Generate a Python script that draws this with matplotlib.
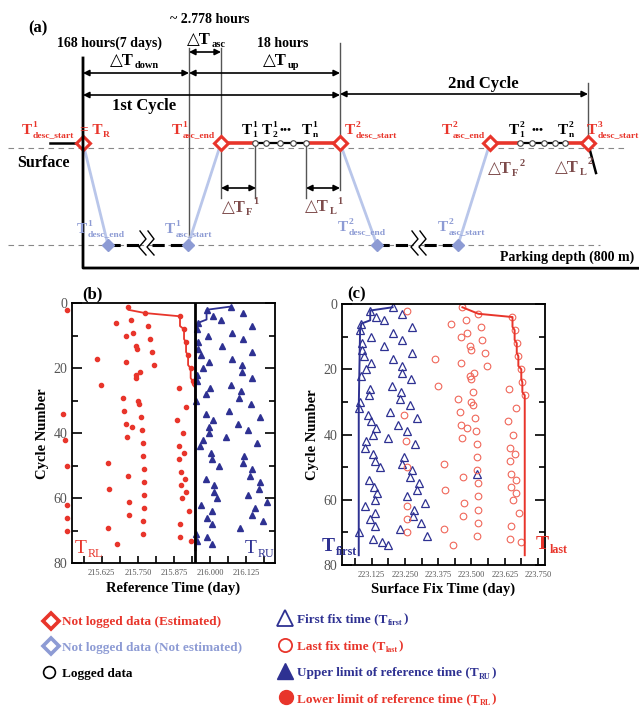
import matplotlib
matplotlib.use('Agg')
import matplotlib.pyplot as plt
from matplotlib.ticker import MultipleLocator, FormatStrFormatter

plt.rcParams['font.family'] = ['Liberation Serif', 'DejaVu Serif', 'DejaVu Sans']

RED = '#e8352b'
RED2 = '#f0675a'
BLUE = '#2e3192'
LBLUE = '#8d9bd4'
LLINE = '#b9c6ea'
BROWN = '#7d4b4b'
GRAY = '#555555'

# ---------- (b) reference time ----------
rl_c = [1, 2, 3, 4, 5, 6, 7, 8, 9, 10, 11, 12, 13, 14, 15, 16, 17, 18, 19, 20, 21, 22, 23, 24, 25, 26,
        29, 30, 31, 32, 33, 34, 35, 36, 37, 38, 39, 40, 41, 42, 43, 44, 46, 47, 48, 49, 50, 51, 52, 53,
        54, 55, 56, 57, 58, 59, 60, 61, 62, 63, 64, 65, 66, 67, 68, 69, 70, 71, 72, 73, 74]
rl_x = [215.717, 215.504, 215.775, 215.896, 215.726, 215.673, 215.784, 215.910, 215.735, 215.708,
        215.792, 215.917, 215.743, 215.746, 215.800, 215.924, 215.610, 215.708, 215.806, 215.933,
        215.758, 215.743, 215.744, 215.940, 215.622, 215.893, 215.700, 215.750, 215.754, 215.916,
        215.703, 215.492, 215.761, 215.887, 215.708, 215.729, 215.766, 215.905, 215.711, 215.498,
        215.767, 215.894, 215.911, 215.769, 215.894, 215.646, 215.504, 215.771, 215.898, 215.717,
        215.913, 215.771, 215.898, 215.649, 215.916, 215.771, 215.904, 215.720, 215.504, 215.771,
        215.927, 215.720, 215.504, 215.769, 215.896, 215.648, 215.504, 215.769, 215.896, 215.934,
        215.679]
ru_c = [1, 2, 3, 4, 5, 6, 7, 8, 9, 10, 11, 12, 13, 14, 15, 16, 17, 18, 19, 20, 21, 22, 23, 24, 25,
        26, 27, 28, 29, 30, 31, 33, 34, 35, 36, 37, 38, 39, 40, 41, 42, 43, 44, 46, 47, 48, 49, 50,
        51, 53, 54, 55, 56, 57, 58, 59, 60, 61, 62, 63, 64, 65, 66, 67, 68, 69, 71, 72, 73, 74]
ru_x = [216.072, 215.988, 216.113, 216.011, 216.039, 215.959, 216.147, 215.954, 216.076, 215.994,
        216.113, 215.959, 216.043, 215.959, 216.147, 215.968, 216.076, 215.996, 216.111, 215.977,
        216.111, 215.956, 216.147, 215.954, 216.072, 215.999, 216.107, 215.985, 216.101, 215.951,
        216.142, 216.067, 215.985, 216.173, 216.011, 216.096, 215.996, 216.130, 215.997, 216.055,
        215.974, 216.161, 215.967, 216.002, 216.119, 216.006, 216.113, 216.030, 216.147, 216.138,
        215.986, 216.173, 216.015, 216.170, 216.015, 216.130, 216.023, 216.196, 215.970, 216.157,
        216.008, 216.147, 215.991, 216.184, 216.008, 216.104, 215.951, 215.988, 215.956, 216.006]
rl_step_c = [1, 2, 3, 4, 7, 8, 11, 12, 15, 16, 19, 20, 23, 24, 25, 26, 76]
rl_step_x = [215.717, 215.717, 215.775, 215.896, 215.896, 215.910, 215.910, 215.917, 215.917,
             215.924, 215.924, 215.933, 215.933, 215.940, 215.940, 215.949, 215.949]
ru_step_c = [1, 2, 5, 6, 7, 8, 12, 76]
ru_step_x = [216.072, 215.988, 215.988, 215.959, 215.955, 215.953, 215.950, 215.950]
tr_final = 215.947

# ---------- (c) surface fix time ----------
tf_c = [1, 2, 3, 4, 5, 6, 7, 8, 9, 10, 11, 12, 13, 14, 15, 16, 17, 18, 19, 20, 21, 22, 23, 25, 26,
        27, 28, 29, 30, 31, 32, 33, 34, 35, 36, 37, 38, 39, 40, 41, 42, 43, 44, 46, 47, 48, 49, 50,
        51, 52, 53, 54, 55, 56, 57, 58, 59, 60, 61, 62, 63, 64, 65, 66, 67, 68, 69, 70, 71, 72, 73, 74]
tf_x = [223.204, 223.120, 223.239, 223.141, 223.170, 223.087, 223.276, 223.082, 223.204, 223.122,
        223.241, 223.089, 223.170, 223.091, 223.276, 223.097, 223.204, 223.122, 223.239, 223.104,
        223.239, 223.085, 223.274, 223.201, 223.120, 223.236, 223.116, 223.232, 223.082, 223.269,
        223.079, 223.195, 223.112, 223.295, 223.122, 223.225, 223.141, 223.257, 223.129, 223.185,
        223.104, 223.289, 223.100, 223.132, 223.247, 223.137, 223.241, 223.157, 223.276, 223.522,
        223.269, 223.116, 223.304, 223.135, 223.297, 223.145, 223.257, 223.137, 223.324, 223.100,
        223.285, 223.137, 223.279, 223.120, 223.311, 223.137, 223.232, 223.079, 223.335, 223.132,
        223.166, 223.187]
tl_c = [1, 2, 3, 4, 5, 6, 7, 8, 9, 10, 11, 12, 13, 14, 15, 16, 17, 18, 19, 20, 21, 22, 23, 24, 25,
        26, 27, 28, 29, 30, 31, 32, 33, 34, 35, 36, 37, 38, 39, 40, 41, 42, 43, 44, 46, 47, 48, 49,
        50, 51, 52, 53, 54, 55, 56, 57, 58, 59, 60, 61, 62, 63, 64, 65, 66, 67, 68, 69, 70, 71, 72,
        73, 74]
tl_x = [223.466, 223.257, 223.526, 223.654, 223.479, 223.425, 223.535, 223.662, 223.485, 223.460,
        223.541, 223.670, 223.495, 223.497, 223.551, 223.676, 223.362, 223.460, 223.557, 223.687,
        223.510, 223.495, 223.497, 223.691, 223.376, 223.641, 223.504, 223.700, 223.451, 223.500,
        223.507, 223.666, 223.456, 223.247, 223.514, 223.637, 223.460, 223.482, 223.516, 223.656,
        223.465, 223.254, 223.519, 223.644, 223.662, 223.519, 223.645, 223.397, 223.257, 223.522,
        223.650, 223.470, 223.666, 223.525, 223.650, 223.400, 223.666, 223.525, 223.656, 223.472,
        223.257, 223.525, 223.679, 223.470, 223.257, 223.525, 223.647, 223.397, 223.257, 223.522,
        223.645, 223.685, 223.431]
tf_step_c = [1, 2, 5, 6, 8, 22, 32, 77]
tf_step_x = [223.204, 223.120, 223.120, 223.087, 223.082, 223.079, 223.077, 223.077]
tl_step_c = [1, 3, 4, 7, 8, 11, 12, 15, 16, 19, 20, 23, 24, 27, 28, 77]
tl_step_x = [223.466, 223.526, 223.654, 223.654, 223.662, 223.662, 223.670, 223.670, 223.676,
             223.676, 223.687, 223.687, 223.691, 223.691, 223.700, 223.700]

# ---------- (a) schematic positions (pixels) ----------
surf_y, surf_ref_y, park_y = 143, 148, 245
desc_start = [83, 340, 588]
desc_end = [108, 377]
asc_start = [188, 458]
asc_end = [221, 490]
breaks = [140, 412]
fixes = [[255, 266, 280, 293, 306], [520, 532, 544, 555, 565]]

W, H = 639, 707
fig = plt.figure(figsize=(W / 100, H / 100), dpi=100)
axb = fig.add_axes([71.7 / W, 1 - 563.3 / H, 203.3 / W, 260 / H])
axc = fig.add_axes([341.7 / W, 1 - 565 / H, 203.3 / W, 261 / H])
ov = fig.add_axes([0, 0, 1, 1])
ov.set_xlim(0, W)
ov.set_ylim(H, 0)
ov.axis('off')
ov.set_zorder(5)
renderer = fig.canvas.get_renderer()
PX = 100 / 72


def rich(x, y, parts, size, color, weight='bold'):
    cx = x
    for txt, kind in parts:
        if kind == 'n':
            t = ov.text(cx, y, txt, fontsize=size, color=color, fontweight=weight,
                        ha='left', va='baseline')
            cx += t.get_window_extent(renderer).width
        else:
            sup, sub = txt
            w = 0
            if sup:
                t = ov.text(cx + 0.5, y - 0.45 * size * PX, sup, fontsize=size * 0.62, color=color,
                            fontweight=weight, ha='left', va='baseline')
                w = max(w, t.get_window_extent(renderer).width)
            if sub:
                t = ov.text(cx + 0.5, y + 0.2 * size * PX, sub, fontsize=size * 0.62, color=color,
                            fontweight=weight, ha='left', va='baseline')
                w = max(w, t.get_window_extent(renderer).width)
            cx += w + 1
    return cx


def darrow(x1, x2, y):
    ov.annotate('', xy=(x2, y), xytext=(x1, y),
                arrowprops=dict(arrowstyle='<|-|>', color='k', lw=1.2, shrinkA=0, shrinkB=0,
                                mutation_scale=9))


# ----- panel (a) -----
ov.plot([8, 625], [surf_ref_y] * 2, ls=(0, (5, 4)), color='#888888', lw=0.8)
ov.plot([8, 600], [park_y] * 2, ls=(0, (5, 4)), color='#888888', lw=0.8)

vlines = [(189, 48, 240), (221, 48, 198), (340, 43, 190), (255, 143, 198), (306, 143, 198),
          (588, 83, 143)]
for x, y0, y1 in vlines:
    ov.plot([x, x], [y0, y1], color='#555555', lw=1.0)

darrow(83, 189, 73)
darrow(189, 340, 73)
darrow(189, 221, 52)
darrow(83, 340, 95)
darrow(340, 588, 94)
darrow(221, 256, 188)
darrow(306, 340, 188)

# float track
ov.plot([50, 83], [surf_y] * 2, color='k', lw=1.8)
for i in range(2):
    ov.plot([desc_start[i], desc_end[i]], [surf_y, park_y], color=LLINE, lw=2)
    ov.plot([asc_start[i], asc_end[i]], [park_y, surf_y], color=LLINE, lw=2)
    b = breaks[i]
    ov.plot([desc_end[i], b], [park_y] * 2, color='k', lw=2.2, ls=(0, (4, 2)))
    ov.plot([b + 12, asc_start[i]], [park_y] * 2, color='k', lw=2.2, ls=(0, (4, 2)))
    for dx in (0, 8):
        ov.plot([b + dx, b + dx + 6, b + dx - 1, b + dx + 6],
                [park_y - 14, park_y - 6, park_y + 2, park_y + 10], color='k', lw=1.0)
    f = fixes[i]
    ov.plot([asc_end[i], f[0]], [surf_y] * 2, color=RED, lw=2.6)
    ov.plot([f[0], f[-1]], [surf_y] * 2, color='k', lw=1.6)
    ov.plot([f[-1], desc_start[i + 1]], [surf_y] * 2, color=RED, lw=2.6)
    ov.plot(f, [surf_y] * len(f), 'o', ms=4, mfc='white', mec='#444444', mew=0.8)
    ov.plot([desc_end[i], asc_start[i]], [park_y] * 2, 'D', ms=6, color=LBLUE)
ov.plot([588, 596], [surf_y, 173], color='k', lw=1.8)
ov.plot(desc_start + asc_end, [surf_y] * 5, 'D', ms=7, mfc='white', mec=RED, mew=2.2)

# connecting black line to panel (b)
xr = axb.transData.transform((tr_final, 0))[0]
ov.plot([83, 83, xr, xr], [58, 268, 288, 303.3], color='k', lw=2)

ov.text(28, 32, '(a)', fontsize=12, fontweight='bold')
ov.text(170, 23, '~ 2.778 hours', fontsize=10, fontweight='bold')
ov.text(57, 47, '168 hours(7 days)', fontsize=10, fontweight='bold')
ov.text(257, 47, '18 hours', fontsize=10, fontweight='bold')
rich(187, 44, [('\u25b3T', 'n'), (('', 'asc'), 's')], 12, 'k')
rich(110, 65, [('\u25b3T', 'n'), (('', 'down'), 's')], 12, 'k')
rich(263, 65, [('\u25b3T', 'n'), (('', 'up'), 's')], 12, 'k')
ov.text(112, 110, '1st Cycle', fontsize=12, fontweight='bold')
ov.text(448, 88, '2nd Cycle', fontsize=12, fontweight='bold')

rich(22, 134, [('T', 'n'), (('1', 'desc_start'), 's')], 11, RED)
rich(80, 134, [('= T', 'n'), (('', 'R'), 's')], 11, RED)
rich(172, 134, [('T', 'n'), (('1', 'asc_end'), 's')], 11, RED)
rich(345, 134, [('T', 'n'), (('2', 'desc_start'), 's')], 11, RED)
rich(442, 134, [('T', 'n'), (('2', 'asc_end'), 's')], 11, RED)
rich(587, 134, [('T', 'n'), (('3', 'desc_start'), 's')], 11, RED)
rich(242, 134, [('T', 'n'), (('1', '1'), 's')], 11, 'k')
rich(262, 134, [('T', 'n'), (('1', '2'), 's')], 11, 'k')
rich(279, 132, [('\u2022\u2022\u2022', 'n')], 8, 'k')
rich(302, 134, [('T', 'n'), (('1', 'n'), 's')], 11, 'k')
rich(509, 134, [('T', 'n'), (('2', '1'), 's')], 11, 'k')
rich(532, 132, [('\u2022\u2022\u2022', 'n')], 8, 'k')
rich(558, 134, [('T', 'n'), (('2', 'n'), 's')], 11, 'k')

ov.text(17, 167, 'Surface', fontsize=11.5, fontweight='bold')
rich(222, 212, [('\u25b3T', 'n'), (('', 'F'), 's'), (('1', ''), 's')], 12, BROWN)
rich(305, 211, [('\u25b3T', 'n'), (('', 'L'), 's'), (('1', ''), 's')], 12, BROWN)
rich(488, 173, [('\u25b3T', 'n'), (('', 'F'), 's'), (('2', ''), 's')], 12, BROWN)
rich(555, 172, [('\u25b3T', 'n'), (('', 'L'), 's'), (('2', ''), 's')], 12, BROWN)

rich(77, 233, [('T', 'n'), (('1', 'desc_end'), 's')], 11, LBLUE)
rich(165, 233, [('T', 'n'), (('1', 'asc_start'), 's')], 11, LBLUE)
rich(338, 231, [('T', 'n'), (('2', 'desc_end'), 's')], 11, LBLUE)
rich(438, 231, [('T', 'n'), (('2', 'asc_start'), 's')], 11, LBLUE)
ov.text(500, 261, 'Parking depth (800 m)', fontsize=10, fontweight='bold')


# ----- panels (b) and (c) -----
def style(ax, xlim, xlab):
    ax.set_xlim(*xlim)
    ax.set_ylim(80, 0)
    ax.yaxis.set_major_locator(MultipleLocator(20))
    ax.yaxis.set_minor_locator(MultipleLocator(10))
    ax.xaxis.set_major_locator(MultipleLocator(0.125))
    ax.xaxis.set_minor_locator(MultipleLocator(0.0625))
    ax.xaxis.set_major_formatter(FormatStrFormatter('%.3f'))
    ax.tick_params(which='both', direction='in', top=False, right=True, width=1.2)
    ax.tick_params(axis='y', which='major', length=7, labelsize=10, labelcolor=GRAY, pad=3)
    ax.tick_params(axis='y', which='minor', length=4)
    ax.tick_params(axis='x', which='both', length=5, labelsize=6, labelcolor=GRAY, pad=4)
    for s in ax.spines.values():
        s.set_linewidth(1.3)
    ax.set_xlabel(xlab, fontsize=10.5, fontweight='bold', labelpad=3)
    ax.set_ylabel('Cycle Number', fontsize=10.5, fontweight='bold', labelpad=3)


style(axb, (215.521, 216.225), 'Reference Time (day)')
axb.plot(rl_x, rl_c, 'o', ms=3, color=RED, clip_on=False)
axb.plot(ru_x, ru_c, '^', ms=4, color=BLUE)
axb.plot(rl_step_x, rl_step_c, color=RED, lw=1.3)
axb.plot(ru_step_x, ru_step_c, color=BLUE, lw=1.3)
axb.axvline(tr_final, color='k', lw=2)

style(axc, (223.013, 223.776), 'Surface Fix Time (day)')
axc.plot(tf_x, tf_c, '^', ms=5.5, mfc='none', mec=BLUE, mew=0.9)
axc.plot(tl_x, tl_c, 'o', ms=4.8, mfc='none', mec=RED2, mew=0.8)
axc.plot(tf_step_x, tf_step_c, color=BLUE, lw=1.4)
axc.plot(tl_step_x, tl_step_c, color=RED, lw=1.4)

ov.text(82, 298, '(b)', fontsize=12, fontweight='bold')
ov.text(347, 298, '(c)', fontsize=12, fontweight='bold')
rich(75, 553, [('T', 'n'), (('', 'RL'), 's')], 14, RED, weight='normal')
rich(245, 553, [('T', 'n'), (('', 'RU'), 's')], 14, BLUE, weight='normal')
rich(322, 551, [('T', 'n'), (('', 'first'), 's')], 14, BLUE)
rich(536, 549, [('T', 'n'), (('', 'last'), 's')], 14, RED)

# ----- legend -----
ov.plot(51, 621, 'D', ms=8, mfc='white', mec=RED, mew=2.6)
ov.plot(51, 646, 'D', ms=8, mfc='white', mec=LBLUE, mew=2.6)
ov.plot(49, 672, 'o', ms=8.5, mfc='white', mec='k', mew=1.2)
rich(62, 625, [('Not logged data (Estimated)', 'n')], 9.5, RED)
rich(62, 651, [('Not logged data (Not estimated)', 'n')], 9.5, LBLUE)
rich(62, 677, [('Logged data', 'n')], 9.5, 'k')

ov.plot(285, 618, '^', ms=11, mfc='white', mec=BLUE, mew=1.3)
ov.plot(285, 645, 'o', ms=9.5, mfc='white', mec=RED, mew=1.3)
ov.plot(285, 671, '^', ms=11, color=BLUE)
ov.plot(286, 697, 'o', ms=10, color=RED)
rich(297, 622, [('First fix time (T', 'n'), (('', 'first'), 's'), (')', 'n')], 9.5, BLUE)
rich(297, 649, [('Last fix time (T', 'n'), (('', 'last'), 's'), (')', 'n')], 9.5, RED)
rich(297, 676, [('Upper limit of reference time (T', 'n'), (('', 'RU'), 's'), (')', 'n')], 9.5, BLUE)
rich(297, 702, [('Lower limit of reference time (T', 'n'), (('', 'RL'), 's'), (')', 'n')], 9.5, RED)

fig.savefig('out.png', dpi=100)
